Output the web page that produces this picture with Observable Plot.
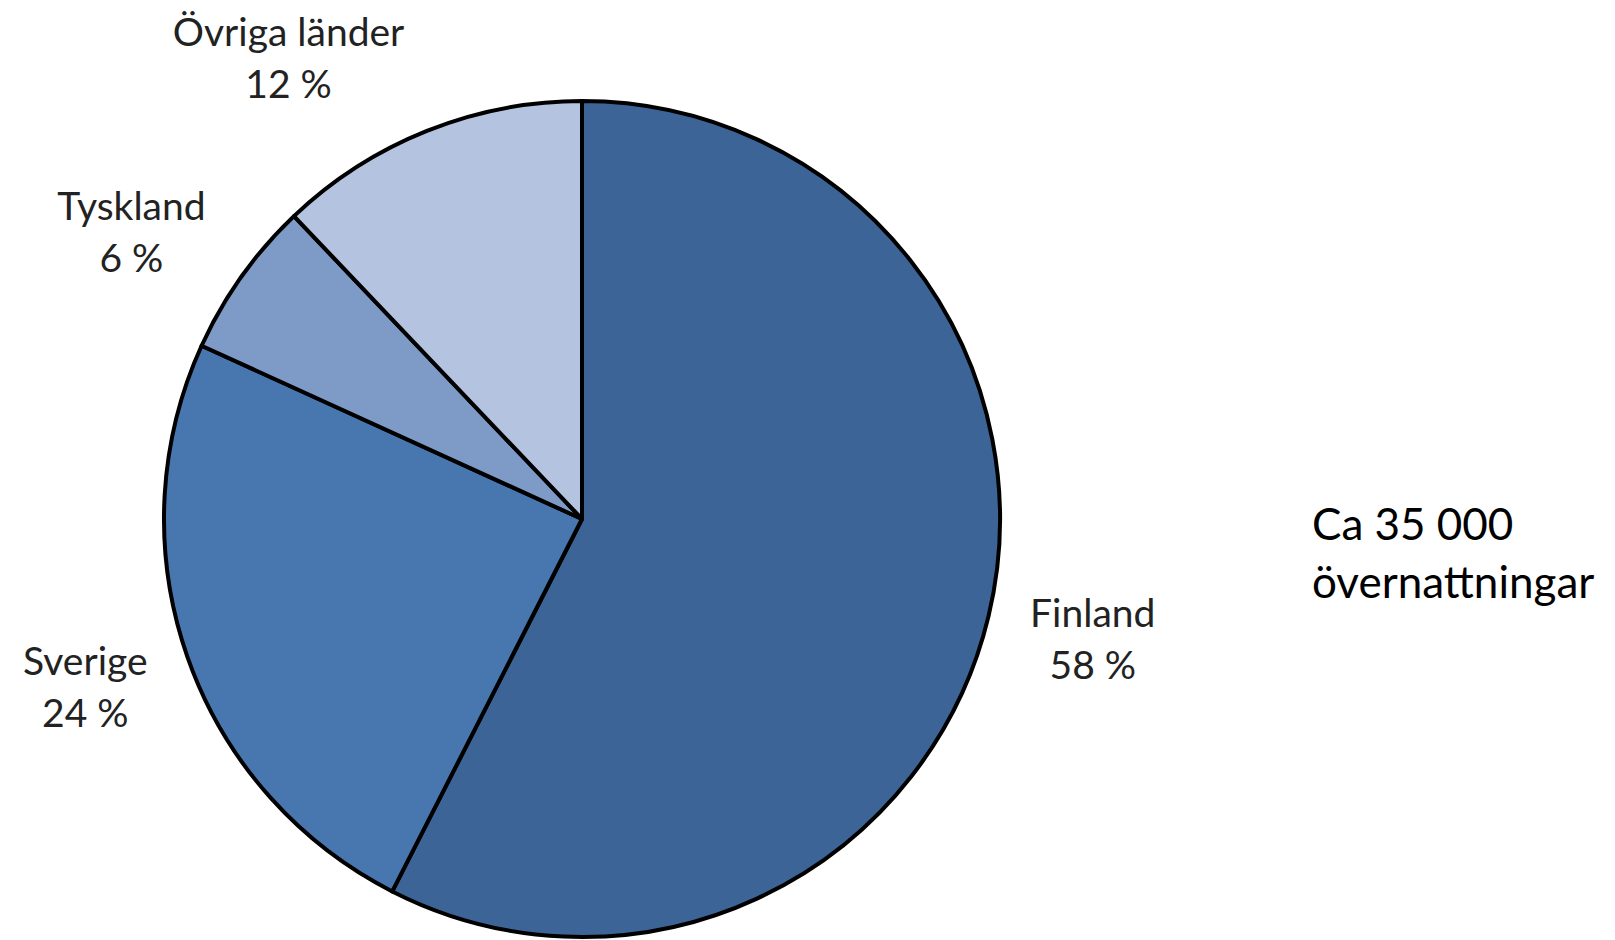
<!DOCTYPE html>
<html>
<head>
<meta charset="utf-8">
<script src="https://cdn.jsdelivr.net/npm/d3@7"></script>
<script src="https://cdn.jsdelivr.net/npm/@observablehq/plot@0.6"></script>
<style>
  html, body { margin: 0; padding: 0; background: #fff; }
  #wrap { position: relative; width: 1615px; height: 940px; overflow: hidden; }
  #caption { position: absolute; left: 1312px; top: 494px; font-family: Lato, sans-serif; font-size: 44px; line-height: 58px; color: #000; white-space: nowrap; }
</style>
</head>
<body>
<div id="wrap">
  <div id="chart"></div>
  <div id="caption">Ca 35 000<br>övernattningar</div>
</div>
<script>
// Data (shares; labels show rounded values)
const countries = ["Finland", "Sverige", "Tyskland", "Övriga länder"];
const shares = [57.5, 24.3, 6.1, 12.1];
const sliceColors = ["#3C6496", "#4877B0", "#7E9BC8", "#B4C3DF"];

// Layout
const W = 1615, H = 940;
const CX = 582, CY = 519, R = 418;
const FONT = "Lato, sans-serif";
const FS = 39, LINE = 52, PAD = 30, GAP = 12;

const rows = countries.map((c, i) => ({country: c, share: shares[i], color: sliceColors[i]}));
const arcs = d3.pie().sort(null).value(d => d.share)(rows);

const ctx = document.createElement("canvas").getContext("2d");
ctx.font = `${FS}px ${FONT}`;

const labels = arcs.map(a => {
  const t = (a.startAngle + a.endAngle) / 2;
  const s = Math.sin(t), c = Math.cos(t);
  const text = `${a.data.country}\n${Math.round(a.data.share)} %`;
  const w = Math.max(...text.split("\n").map(l => ctx.measureText(l).width));
  const h = 2 * LINE;
  const x = ((R + PAD) * s + Math.sign(s) * (w / 2 + GAP)) / R;
  const y = ((R + PAD) * c + c * h / 2) / R;
  return {text, x, y};
});

const pieMark = (index, scales) => {
  const cx = scales.x(0), cy = scales.y(0), r = scales.x(1) - scales.x(0);
  const g = d3.create("svg:g").attr("transform", `translate(${cx},${cy})`);
  g.selectAll("path").data(arcs).join("path")
    .attr("d", d3.arc().innerRadius(0).outerRadius(r))
    .attr("fill", d => d.data.color)
    .attr("stroke", "#000")
    .attr("stroke-width", 4)
    .attr("stroke-linejoin", "round");
  return g.node();
};

const chart = Plot.plot({
  width: W,
  height: H,
  margin: 0,
  style: {background: "#fff", fontFamily: FONT},
  x: {domain: [-CX / R, (W - CX) / R], axis: null},
  y: {domain: [-(H - CY) / R, CY / R], axis: null},
  marks: [
    pieMark,
    Plot.text(labels, {
      x: "x", y: "y", text: "text",
      fontSize: FS, lineHeight: LINE / FS,
      textAnchor: "middle", lineAnchor: "middle",
      fill: "#222"
    })
  ]
});
document.getElementById("chart").append(chart);
</script>
</body>
</html>
